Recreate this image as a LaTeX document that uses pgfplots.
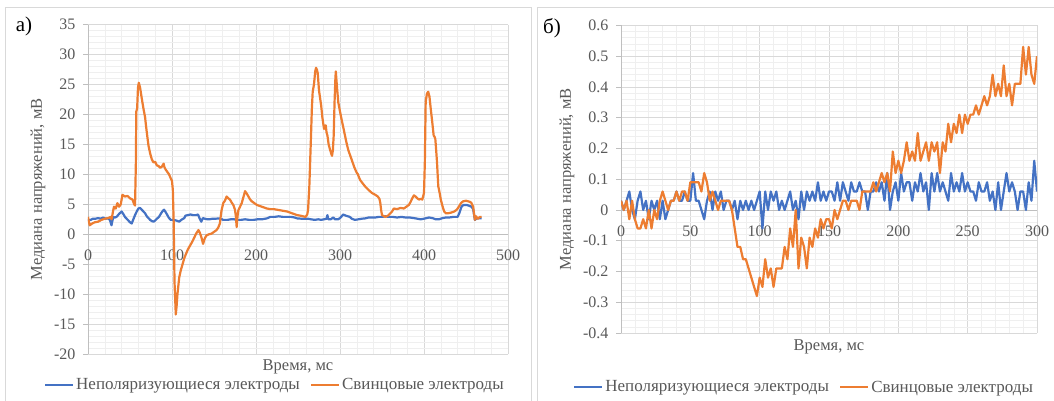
\documentclass[border=0pt]{standalone}
\usepackage{fontspec}
\setmainfont{Liberation Serif}
\setsansfont{Liberation Serif}
\newfontfamily\tnr{Liberation Serif}
\usepackage{pgfplots}
\pgfplotsset{compat=1.18}
\definecolor{ser1}{HTML}{4472C4}
\definecolor{ser2}{HTML}{ED7D31}
\definecolor{txt}{HTML}{595959}
\definecolor{gridmaj}{HTML}{D9D9D9}
\definecolor{gridmin}{HTML}{EFEFEF}
\definecolor{axl}{HTML}{BFBFBF}
\definecolor{frame}{HTML}{D9D9D9}

\pgfplotsset{
  panel/.style={
    scale only axis,
    anchor=south west,
    axis x line*=middle,
    axis y line*=left,
    hide obscured x ticks=false,
    hide obscured y ticks=false,
    grid=both,
    major grid style={draw=gridmaj, line width=0.8pt},
    minor grid style={draw=gridmin, line width=0.6pt},
    axis line style={draw=axl, line width=0.8pt},
    minor x tick num=4, minor y tick num=4,
    tick align=outside,
    major tick length=5pt,
    minor tick length=0pt,
    xtick style={draw=none},
    ytick style={draw=axl, line width=0.8pt},
    tick label style={font=\tnr\fontsize{16}{18}\selectfont, text=txt},
    yticklabel style={xshift=-4pt},
    xticklabel style={yshift=-7pt},
    /pgf/number format/assume math mode=true,
    /pgf/number format/1000 sep={},
    label style={font=\tnr\fontsize{16.5}{19}\selectfont, text=txt},
    xlabel style={at={(axis description cs:0.5,0)}, anchor=north, yshift=-2pt},
    legend style={draw=none, fill=none, legend columns=2,
      font=\tnr\fontsize{17}{20}\selectfont, text=txt,
      /tikz/every even column/.append style={column sep=8pt}},
    legend image code/.code={\draw[#1] (0pt,0pt) -- (28pt,0pt);},
    every axis plot/.append style={line width=2.2pt, line join=round},
  },
}

\begin{document}
\tnr
\begin{tikzpicture}[font=\tnr]
\useasboundingbox (0pt,0pt) rectangle (1054pt,-400pt);
\fill[white] (0pt,0pt) rectangle (1054pt,-400pt);
\draw[frame, line width=1pt] (5pt,-7.5pt) rectangle (531pt,-403pt);
\draw[frame, line width=1pt] (537pt,-7.5pt) rectangle (1058pt,-403pt);
\node[font=\tnr\fontsize{21}{23}\selectfont] at (24pt,-26pt) {а)};
\node[font=\tnr\fontsize{21}{23}\selectfont] at (552pt,-28pt) {б)};

% ---- panel a ----
\begin{axis}[panel,
  at={(88pt,-354pt)},
  width=420pt, height=329.3pt,
  xmin=0, xmax=500, ymin=-20, ymax=35,
  xtick={0,100,...,500}, ytick={-20,-15,...,35},
  xlabel={Время, мс},
  ylabel={Медиана напряжений, мВ},
  ylabel style={at={(axis description cs:-0.119,0.5)}, anchor=center},
  legend style={at={(axis description cs:0.445,-0.094)}, anchor=center},
]
\addplot[ser1] coordinates {
(0,2.4)(3,2.4)(6,2.6)(9,2.6)(12,2.7)(15,2.6)(18,2.8)(21,2.6)(24,2.65)(26,2.4)
(28,1.5)(30,2.9)(32,2.8)(34,2.9)(37,3.4)(40,3.8)(42,3.4)(44,2.9)(46,2.6)(48,2.3)
(50,2.0)(52,1.8)(54,2.5)(56,3.2)(58,3.8)(60,4.3)(62,4.4)(64,4.1)(66,3.8)(68,3.5)
(70,3.0)(72,2.7)(74,2.4)(76,2.2)(78,2.1)(80,2.3)(82,2.6)(84.5,2.9)(87,3.5)(89,3.9)
(90.5,4.1)(92,3.8)(94.5,3.2)(96,2.8)(98.5,2.4)(102,2.4)(105,2.3)(108.6,2.1)(111,2.4)
(114.6,2.7)(116,3.1)(118.7,3.2)(122,3.3)(125,3.2)(128.7,3.2)(131,3.3)(132.7,2.7)
(134.8,2.1)(136.8,2.7)(139,2.6)(142,2.5)(144.8,2.5)(148,2.6)(152,2.6)(157,2.65)
(161,2.4)(166,2.4)(170,2.5)(174,2.5)(177,2.4)(182,2.4)(187,2.5)(192,2.4)(197,2.4)
(202,2.5)(207,2.5)(211,2.6)(213,2.65)(217,2.9)(222,2.9)(227,3.0)(232,2.9)(237,2.9)
(242,2.9)(246,2.8)(249,2.65)(254,2.6)(258,2.6)(262,2.6)(265.5,2.5)(270,2.4)(274,2.5)
(277.5,2.4)(281,2.5)(284,2.6)(285,3.2)(286,2.5)(289,2.5)(292,2.8)(294,2.5)(297.7,2.5)
(300,2.7)(302,3.0)(303.7,3.3)(307,3.1)(311.7,2.9)(314,2.6)(317.8,2.4)(322,2.5)
(326,2.6)(329.8,2.65)(334,2.8)(338,2.8)(342,2.8)(346,2.9)(350,2.9)(354,3.0)(358,2.9)
(363,2.9)(368,2.8)(373,2.9)(378,2.8)(383,2.8)(388,2.7)(392,2.6)(396,2.5)(400,2.6)
(403,2.7)(406,2.8)(410,2.7)(414,2.5)(418,2.5)(422,2.7)(426,2.8)(430,2.8)(435,2.9)
(440,2.9)(442,3.5)(444.6,4.6)(447,4.9)(450.6,4.9)(453,4.8)(456.5,4.6)(458.5,4.2)
(460.6,2.4)(463,2.7)(466,2.65)(468.7,2.65)
};
\addlegendentry{Неполяризующиеся электроды}
\addplot[ser2] coordinates {
(0,2.9)(2,1.5)(5,1.8)(8,2.0)(12,2.1)(16,2.4)(20,2.6)(24,2.7)(27,2.9)(28,2.5)(29,3.2)
(30,4.0)(31,4.6)(33,4.3)(35,5.2)(37,4.6)(39,5.0)(41,6.6)(44,6.3)(47,6.4)(50,6.0)
(53,5.8)(55,5.0)(56,4.8)(57,12)(57.5,20.5)(58.5,21)(59.5,24.5)(60.5,25.3)(62,24.5)
(64,22.7)(66,21)(68,19.5)(69,18.2)(70,17)(72,14.8)(74,13.5)(76,12.5)(78,12)(80,12.1)
(82,11.5)(84,11.4)(86,11.1)(88,11.3)(90,11.8)(91,11.2)(92.5,10.8)(94,10.5)(96.5,10)
(98,9.5)(100,8.9)(101,7.4)(102,2)(103,-8)(104.5,-13.4)(105.5,-12)(106.5,-10)
(108.6,-7.2)(110.5,-6)(112.6,-5)(114.6,-4)(116.6,-3.3)(119,-2.5)(122.7,-1.6)(125,-1)
(128.7,0.1)(131.5,0.7)(133,0.3)(135,-0.5)(137,-1.6)(139,-0.7)(141,-0.2)(144,0)
(147,0.1)(150,0.4)(153,0.7)(155,1.1)(157,1.8)(158,3)(159,4)(161,5.2)(163,5.6)
(165,6.3)(167,6)(169,5.8)(171,5.3)(173,4.9)(175,4.1)(176,3)(177,1.2)(178,3)(179,4)
(181,4.6)(183,5.2)(185,6.2)(187,7.2)(189,6.8)(191,6.3)(193,5.8)(195,5.5)(198,5.2)
(201,4.9)(205,4.7)(209,4.5)(213,4.3)(217,4.2)(221,4.2)(225,4.1)(229,4.0)(233,3.9)
(237,3.8)(241,3.6)(245,3.4)(249,3.2)(253,3.1)(256,3.0)(259,2.9)(261,3.3)(262,4.1)
(263.5,8)(265.5,16.5)(266.5,21)(267.5,23.8)(269,25)(270.5,27.2)(271.5,27.8)
(272.5,27.5)(273.5,26.9)(275,24)(277.5,21.6)(279,19.5)(281,17.6)(283,18.2)(284,17)
(285,16.5)(286.5,15)(288,14.2)(289.5,13.5)(290.5,13.1)(291.5,14)(292.5,16.5)
(293.5,22)(294.5,26)(295,27.2)(296.5,24.4)(298,22)(300,20.5)(301.7,19.3)(304,17.8)
(307.7,15.3)(310,14)(313.8,12.5)(317,11.2)(319.8,10.3)(321,10.1)(323.8,9.1)(327,8.5)
(329.8,8)(334,7.4)(338,6.9)(341.9,6.6)(345,6.3)(347,5.9)(348,5.2)(349,4)(350,3.2)
(354,2.9)(357,3.1)(360,3.5)(362,3.8)(364,4.3)(368,4.2)(372,4.4)(376,4.3)(379,4.6)
(382,4.9)(384,5.4)(386,6)(388,6.5)(390,6.3)(392,6)(394,5.8)(396,5.9)(398,5.8)
(400,6.9)(401,12)(402,22.1)(403.5,23.5)(405,23.8)(406.5,23)(408,21)(410,18.5)
(411.5,16.5)(412.5,16.3)(413.5,15.9)(414.5,14)(415.5,12)(417,8)(418.5,7)(420,5.8)
(422,4.7)(424,3.8)(426,3.5)(428,3.5)(432,3.6)(436,3.8)(439,4.1)(441.5,4.6)(444,5.2)
(446.5,5.5)(450,5.6)(452.5,5.5)(455,5.4)(456.5,5.2)(458.5,4.6)(459.5,3.5)(460.6,2.4)
(462,3)(464,2.6)(466.6,2.9)(468.7,2.9)
};
\addlegendentry{Свинцовые электроды}
\end{axis}

% ---- panel b ----
\begin{axis}[panel,
  at={(621pt,-333pt)},
  width=416pt, height=307.6pt,
  xmin=0, xmax=300, ymin=-0.4, ymax=0.6,
  xtick={0,50,...,300}, ytick={-0.4,-0.3,...,0.6},
  /pgf/number format/fixed, /pgf/number format/precision=1,
  xlabel={Время, мс},
  ylabel={Медиана напряжений, мВ},
  xlabel style={yshift=-1pt},
  ylabel style={at={(axis description cs:-0.13,0.5)}, anchor=center},
  legend style={at={(axis description cs:0.44,-0.176)}, anchor=center},
]
\addplot[ser1] coordinates {
(0,0.03)(2,0)(4,0.03)(6,0.06)(8,0)(10,-0.03)(12,0.03)(14,0.06)(16,0)(18,0.03)
(20,-0.03)(22,0.03)(24,0)(26,0.03)(28,-0.03)(30,0.03)(32,-0.03)(34,0)(36,0.03)(38,0.03)
(40,0.06)(42,0.03)(44,0.03)(46,0.06)(48,0.03)(50,0.03)(52,0.12)(54,0.03)(56,0.03)(58,0)
(60,-0.03)(62,0.03)(64,0.06)(66,0)(68,0.06)(70,0.03)(72,0.06)(74,0)(76,0.03)(78,0.03)
(80,0)(82,0.03)(84,-0.03)(86,0.03)(88,0)(90,0.03)(92,0)(94,0.03)(96,0)(98,0.03)
(100,0.06)(102,-0.06)(104,0.06)(106,0)(108,0.06)(110,0.03)(112,0.06)(114,0)(116,0.03)
(118,0)(120,0.03)(122,0.06)(124,0)(126,0.03)(128,-0.03)(130,0.06)(132,0)(134,0.06)
(136,0.03)(138,0.06)(140,0.03)(142,0.09)(144,0.03)(146,0.06)(148,0.03)(150,0.06)
(152,0.06)(154,0.03)(156,0.09)(158,0.03)(160,0.09)(162,0.06)(164,0.03)(166,0.09)
(168,0.06)(170,0.06)(172,0.09)(174,0.06)(176,0.06)(178,0)(180,0.06)(182,0.06)(184,0.09)
(186,0.06)(188,0.09)(190,0.03)(192,0.12)(194,0)(196,0.06)(198,0.09)(200,0.03)(202,0.12)
(204,0.06)(206,0.09)(208,0.09)(210,0.03)(212,0.09)(214,0.06)(216,0.12)(218,0.06)
(220,0.09)(222,0)(224,0.12)(226,0.06)(228,0.12)(230,0.06)(232,0.09)(234,0.06)(236,0.03)
(238,0.12)(240,0.06)(242,0.09)(244,0.06)(246,0.12)(248,0.06)(250,0.09)(252,0.06)
(254,0.06)(256,0.03)(258,0.09)(260,0.06)(262,0.06)(264,0.09)(266,0.03)(268,0.06)(270,0)
(272,0.09)(274,0)(276,0.06)(278,0.12)(280,0.06)(282,0.09)(284,0.06)(286,0)(288,0.06)
(290,0.06)(292,0)(294,0.09)(296,0.03)(298,0.16)(300,0.06)
};
\addlegendentry{Неполяризующиеся электроды}
\addplot[ser2] coordinates {
(0,0.03)(2,0)(4,0.03)(6,-0.03)(8,0.03)(10,-0.03)(12,-0.06)(14,-0.06)(16,-0.03)(18,-0.06)
(20,0)(22,-0.06)(24,0)(26,-0.03)(28,0.03)(30,0.06)(32,0.03)(34,0)(36,0.03)(38,0.03)
(40,0.06)(42,0.03)(44,0.06)(46,0.06)(48,0.03)(50,0.09)(52,0.09)(54,0.09)(56,0.09)
(58,0.06)(60,0.12)(62,0.09)(64,0.03)(66,0.06)(68,0.03)(70,0)(72,0.03)(74,0.03)(76,0.03)
(78,0.03)(80,0)(82,-0.06)(84,-0.12)(86,-0.12)(88,-0.16)(90,-0.16)(92,-0.19)(94,-0.22)
(96,-0.25)(98,-0.28)(100,-0.22)(102,-0.25)(104,-0.16)(106,-0.22)(108,-0.19)(110,-0.25)
(112,-0.19)(114,-0.19)(116,-0.19)(118,-0.12)(120,-0.16)(122,-0.06)(124,-0.12)(126,0)
(128,-0.19)(130,-0.09)(132,-0.12)(134,-0.19)(136,-0.09)(138,-0.12)(140,-0.06)(142,-0.09)
(144,-0.03)(146,-0.06)(148,-0.03)(150,-0.03)(152,-0.06)(154,0)(156,-0.03)(158,0)
(160,0.03)(162,0.03)(164,0)(166,0.03)(168,0.03)(170,0.03)(172,0)(174,0.06)(176,0.06)
(178,0.06)(180,0.06)(182,0.09)(184,0.06)(186,0.09)(188,0.12)(190,0.09)(192,0.12)
(194,0.06)(196,0.19)(198,0.12)(200,0.16)(202,0.12)(204,0.16)(206,0.22)(208,0.16)
(210,0.19)(212,0.16)(214,0.25)(216,0.16)(218,0.19)(220,0.22)(222,0.16)(224,0.22)
(226,0.19)(228,0.22)(230,0.12)(232,0.22)(234,0.19)(236,0.28)(238,0.22)(240,0.28)
(242,0.25)(244,0.31)(246,0.25)(248,0.31)(250,0.28)(252,0.31)(254,0.31)(256,0.34)
(258,0.31)(260,0.34)(262,0.37)(264,0.34)(266,0.37)(268,0.44)(270,0.37)(272,0.41)
(274,0.37)(276,0.47)(278,0.37)(280,0.41)(282,0.34)(284,0.41)(286,0.41)(288,0.41)
(290,0.53)(292,0.44)(294,0.53)(296,0.44)(298,0.41)(300,0.50)
};
\addlegendentry{Свинцовые электроды}
\end{axis}
\end{tikzpicture}
\end{document}
